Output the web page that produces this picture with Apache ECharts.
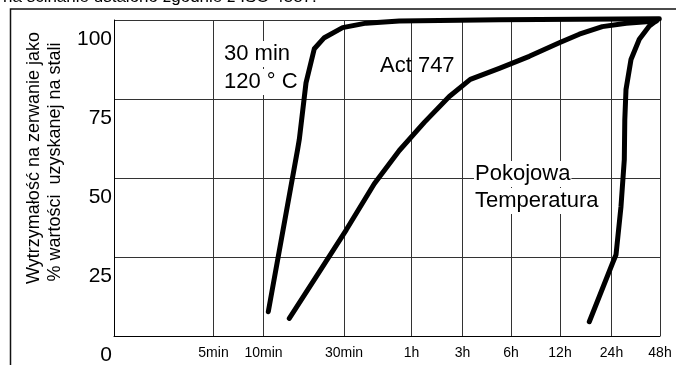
<!DOCTYPE html>
<html>
<head>
<meta charset="utf-8">
<script src="https://cdn.jsdelivr.net/npm/echarts@6/dist/echarts.min.js"></script>
<style>
html,body{margin:0;padding:0;background:#fff;}
#chart{width:676px;height:365px;}
</style>
</head>
<body>
<div id="chart"></div>
<script>
// x axis: position units (approximate doubling steps) of each tick label
const xTickPos = [0, 1.99, 2.99, 4.60, 5.95, 6.97, 7.94, 8.92, 9.95, 10.92];
const xTickLabels = ['', '5min', '10min', '30min', '1h', '3h', '6h', '12h', '24h', '48h'];
const yTicks = [0, 25, 50, 75, 100];

// series: [x position, % of steel strength]
const cure30min120C = [
  [3.086, 7.7], [3.672, 59.0], [3.706, 62.2], [3.84, 80.1], [4.006, 90.9],
  [4.206, 94.4], [4.572, 97.6], [5.04, 99.0], [5.706, 99.7], [7.706, 100.1], [10.906, 100.4]
];
const act747 = [
  [3.506, 5.6], [4.106, 20.3], [4.646, 33.6], [5.206, 48.2], [5.706, 58.7],
  [6.206, 67.6], [6.706, 75.8], [7.126, 81.2], [7.706, 84.7], [8.306, 88.5],
  [8.906, 92.8], [9.306, 95.5], [9.766, 97.9], [10.246, 99.0], [10.846, 99.7]
];
const roomTemp = [
  [9.506, 4.5], [9.972, 23.1], [10.04, 25.7], [10.14, 41.0], [10.206, 55.8],
  [10.216, 68.5], [10.24, 78.0], [10.34, 87.5], [10.506, 93.9], [10.706, 98.1], [10.872, 100.1]
];

const FONT = '"Liberation Sans", Arial, sans-serif';
const chart = echarts.init(document.getElementById('chart'));

function lineSeries(name, data) {
  return {
    name, type: 'line', data, symbol: 'none', clip: false, z: 3,
    lineStyle: { color: '#000', width: 5, cap: 'round', join: 'round' }
  };
}

chart.setOption({
  animation: false,
  backgroundColor: '#fff',
  grid: { left: 114, right: 16, top: 20, bottom: 29, outerBoundsMode: 'none', containLabel: false },
  xAxis: {
    type: 'value', min: 0, max: xTickPos[xTickPos.length - 1],
    axisLine: { show: true, lineStyle: { color: '#000', width: 1 } },
    axisTick: { show: false, customValues: xTickPos },
    splitLine: { show: true, lineStyle: { color: '#333', width: 1 } },
    axisLabel: {
      customValues: xTickPos,
      margin: 10,
      fontFamily: FONT, fontSize: 14, color: '#000',
      formatter: function (v) {
        let best = 0;
        for (let i = 0; i < xTickPos.length; i++) {
          if (Math.abs(xTickPos[i] - v) < Math.abs(xTickPos[best] - v)) best = i;
        }
        return xTickLabels[best];
      }
    }
  },
  yAxis: {
    type: 'value', min: 0, max: 100, interval: 25,
    axisLine: { show: true, lineStyle: { color: '#000', width: 1 } },
    axisTick: { show: false },
    splitLine: { show: true, lineStyle: { color: '#333', width: 1 } },
    axisLabel: {
      margin: 2, fontFamily: FONT, fontSize: 21, color: '#000',
      verticalAlign: 'top', lineHeight: 38
    }
  },
  series: [
    lineSeries('30 min 120 °C', cure30min120C),
    lineSeries('Act 747', act747),
    lineSeries('Pokojowa Temperatura', roomTemp)
  ],
  graphic: [
    { type: 'rect', z: 10, silent: true,
      shape: { x: 10.5, y: 9, width: 800, height: 500 },
      style: { fill: 'none', stroke: '#111', lineWidth: 1.5 } },
    { type: 'text', x: 3, y: -11, z: 10,
      style: { text: 'na ścinanie ustalono zgodnie z ISO 4587.', font: '17px ' + FONT, fill: '#000', textVerticalAlign: 'top' } },
    { type: 'text', x: 34, y: 158, rotation: Math.PI / 2, z: 10,
      style: { text: 'Wytrzymałość na zerwanie jako', font: '18px ' + FONT, fill: '#000', textAlign: 'center', textVerticalAlign: 'middle' } },
    { type: 'text', x: 55, y: 162, rotation: Math.PI / 2, z: 10,
      style: { text: '% wartości  uzyskanej na stali', font: '18px ' + FONT, fill: '#000', textAlign: 'center', textVerticalAlign: 'middle' } },
    { type: 'text', x: 222, y: 54, z: 1,
      style: { text: '30 min', font: '22px ' + FONT, fill: '#000', textVerticalAlign: 'middle', backgroundColor: '#fff', padding: [2, 2] } },
    { type: 'text', x: 222, y: 82, z: 1,
      style: { text: '120 ° C', font: '22px ' + FONT, fill: '#000', textVerticalAlign: 'middle', backgroundColor: '#fff', padding: [2, 2] } },
    { type: 'text', x: 380, y: 66, z: 1,
      style: { text: 'Act 747', font: '22px ' + FONT, fill: '#000', textVerticalAlign: 'middle' } },
    { type: 'text', x: 474, y: 174, z: 1,
      style: { text: 'Pokojowa', font: '22px ' + FONT, fill: '#000', textVerticalAlign: 'middle', backgroundColor: '#fff', padding: [2, 1] } },
    { type: 'text', x: 474, y: 201, z: 1,
      style: { text: 'Temperatura', font: '22px ' + FONT, fill: '#000', textVerticalAlign: 'middle', backgroundColor: '#fff', padding: [2, 1] } }
  ]
});
</script>
</body>
</html>
